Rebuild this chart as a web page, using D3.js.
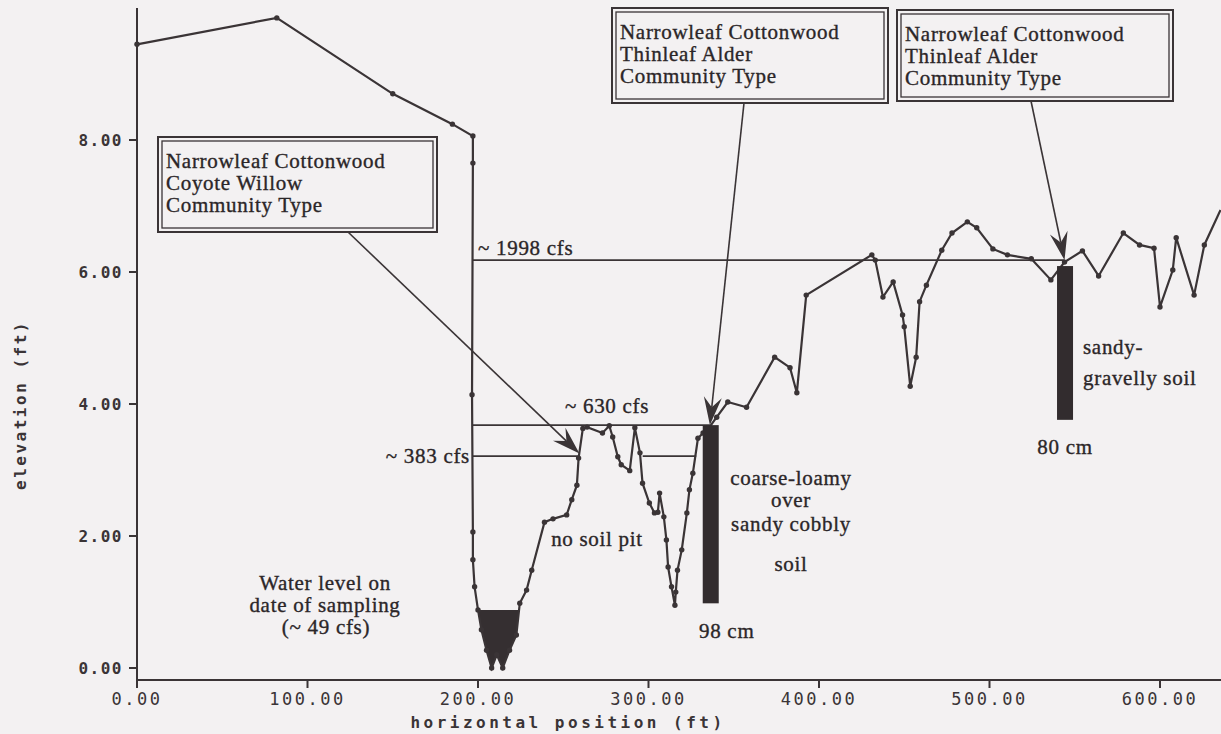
<!DOCTYPE html>
<meta charset="utf-8">
<style>
body { margin: 0; background: #f3f1f2; }
svg { display: block; }
.serif { font-family: "Liberation Serif", "Times New Roman", serif; font-size: 21px; letter-spacing: 0.7px; fill: #2b2628; stroke: #2b2628; stroke-width: 0.35px; }
.mono { font-family: "DejaVu Sans Mono", monospace; fill: #3a3436; }
</style>
<svg width="1221" height="734"></svg>
<script src="https://d3js.org/d3.v7.min.js"></script>
<script>

// surveyed cross-section (horizontal position ft, elevation ft)
var profileX = [0, 82, 150, 185, 197, 197, 196.5, 197, 197, 198,
  200, 202, 205, 208, 211, 214.5, 218.5, 222.5, 224.5, 228.5,
  231.5, 239, 244, 252, 255, 258, 259, 261.5, 264, 273,
  277, 279, 282, 284, 289, 292, 295, 296.5, 300.5, 303.5,
  305.5, 306.5, 309, 310.5, 311.5, 313.5, 315.5, 316, 317, 319.5,
  322.5, 324, 326, 329, 332, 335.5, 340, 346.5, 357.5, 374,
  383, 387, 392.5, 431, 433, 437.5, 443.5, 449, 450, 453.5,
  457, 459, 463, 472, 478, 487, 492.5, 502, 510.5, 524.5,
  536, 544, 554.5, 564, 578.5, 588, 596.5, 600, 607.5, 609.5,
  620, 626, 635.5];
var profileY = [9.45, 9.85, 8.70, 8.24, 8.06, 7.65, 4.14, 2.06, 1.64, 1.23,
  0.88, 0.58, 0.27, 0.0, 0.2, 0.0, 0.27, 0.5, 0.98, 1.18,
  1.48, 2.21, 2.26, 2.32, 2.55, 2.77, 3.18, 3.63, 3.65, 3.56,
  3.67, 3.50, 3.20, 3.08, 2.99, 3.64, 3.26, 2.80, 2.50, 2.35,
  2.36, 2.65, 2.29, 1.94, 1.53, 1.23, 0.95, 1.15, 1.48, 1.79,
  2.35, 2.70, 2.95, 3.48, 3.56, 3.64, 3.80, 4.03, 3.95, 4.71,
  4.55, 4.17, 5.65, 6.26, 6.18, 5.62, 5.85, 5.35, 5.17, 4.27,
  4.71, 5.55, 5.80, 6.33, 6.59, 6.76, 6.67, 6.35, 6.26, 6.20,
  5.88, 6.15, 6.32, 5.94, 6.59, 6.41, 6.36, 5.47, 6.03, 6.52,
  5.65, 6.41, 6.94];

var xTicks = [0, 100, 200, 300, 400, 500, 600];
var yTicks = [0, 2, 4, 6, 8];

// water surface on sampling date
var waterLevel = 0.88, waterFrom = 200, waterTo = 224;

// discharge stage lines: label, elevation, segments [x0, x1]
var stageLabels = ["~ 1998 cfs", "~ 630 cfs", "~ 383 cfs"];
var stageElev = [6.18, 3.68, 3.21];
var stageSegs = [[[197, 544]], [[197, 336]], [[197, 259.5], [296.6, 328]]];

// soil pits: x position, top, bottom elevation, depth label
var pitX = [336.5, 544.3];
var pitTop = [3.68, 6.09];
var pitBottom = [0.98, 3.76];
var pitDepth = ["98 cm", "80 cm"];

// community type boxes and the point each arrow marks
var boxLines = [
  ["Narrowleaf Cottonwood", "Coyote Willow", "Community Type"],
  ["Narrowleaf Cottonwood", "Thinleaf Alder", "Community Type"],
  ["Narrowleaf Cottonwood", "Thinleaf Alder", "Community Type"]
];
var arrowTipX = [259.5, 336, 544];
var arrowTipY = [3.25, 3.68, 6.18];

var svg = d3.select("svg"),
    ink = "#3a3436";

var x = d3.scaleLinear().domain([0, 600]).range([137, 1160]);
var y = d3.scaleLinear().domain([0, 8]).range([668, 140]);

var pts = profileX.map(function(d, i) { return [d, profileY[i]]; });

// axes
var xAxisY = 680;
svg.append("line").attr("x1", x(0)).attr("x2", 1221)
    .attr("y1", xAxisY).attr("y2", xAxisY)
    .attr("stroke", ink).attr("stroke-width", 2);
svg.append("line").attr("x1", x(0)).attr("x2", x(0))
    .attr("y1", 8).attr("y2", xAxisY)
    .attr("stroke", ink).attr("stroke-width", 2);

svg.selectAll(".xt").data(xTicks).enter().append("line")
    .attr("x1", d => x(d)).attr("x2", d => x(d))
    .attr("y1", xAxisY).attr("y2", xAxisY + 8)
    .attr("stroke", ink).attr("stroke-width", 2);
svg.selectAll(".xl").data(xTicks).enter().append("text")
    .attr("class", "mono")
    .attr("x", d => x(d)).attr("y", 705)
    .attr("text-anchor", "middle")
    .style("font-size", "17px").style("letter-spacing", "2.5px")
    .text(d3.format(".2f"));

svg.selectAll(".yt").data(yTicks).enter().append("line")
    .attr("x1", x(0) - 8).attr("x2", x(0))
    .attr("y1", d => y(d)).attr("y2", d => y(d))
    .attr("stroke", ink).attr("stroke-width", 2);
svg.selectAll(".yl").data(yTicks).enter().append("text")
    .attr("class", "mono")
    .attr("x", 123).attr("y", d => y(d) + 6)
    .attr("text-anchor", "end")
    .style("font-size", "16px").style("font-weight", "bold").style("letter-spacing", "1.5px")
    .text(d3.format(".2f"));

svg.append("text").attr("class", "mono")
    .attr("x", 568).attr("y", 728)
    .attr("text-anchor", "middle")
    .style("font-size", "16px").style("font-weight", "bold").style("letter-spacing", "3.5px")
    .text("horizontal position (ft)");
svg.append("text").attr("class", "mono")
    .attr("transform", "translate(26,405) rotate(-90)")
    .attr("text-anchor", "middle")
    .style("font-size", "16px").style("font-weight", "bold").style("letter-spacing", "2.5px")
    .text("elevation (ft)");

// stage lines
stageSegs.forEach(function(segs, i) {
  segs.forEach(function(s) {
    svg.append("line")
        .attr("x1", x(s[0])).attr("x2", x(s[1]))
        .attr("y1", y(stageElev[i])).attr("y2", y(stageElev[i]))
        .attr("stroke", ink).attr("stroke-width", 1.6);
  });
});

// water body
var water = [[waterFrom, waterLevel]]
  .concat(pts.filter(p => p[0] > waterFrom && p[0] < waterTo && p[1] < waterLevel))
  .concat([[waterTo, waterLevel]]);
svg.append("path")
    .attr("d", d3.line().x(d => x(d[0])).y(d => y(d[1]))(water) + "Z")
    .attr("fill", "#352f31");

// profile line and survey dots
svg.append("path")
    .attr("d", d3.line().x(d => x(d[0])).y(d => y(d[1]))(pts))
    .attr("fill", "none").attr("stroke", ink).attr("stroke-width", 2.2);
svg.selectAll(".dot").data(pts.slice(0, -1)).enter().append("circle")
    .attr("cx", d => x(d[0])).attr("cy", d => y(d[1])).attr("r", 2.7)
    .attr("fill", ink);

// soil pits
pitX.forEach(function(px, i) {
  svg.append("rect")
      .attr("x", x(px) - 8).attr("width", 16)
      .attr("y", y(pitTop[i])).attr("height", y(pitBottom[i]) - y(pitTop[i]))
      .attr("fill", "#322c2e");
});

// boxes
var boxPos = [[158, 137, 279, 95], [612, 8, 276, 95], [897, 10, 276, 91]];
var arrowFrom = [[348, 232], [744, 103], [1031, 101]];
boxLines.forEach(function(lines, i) {
  var b = boxPos[i];
  svg.append("rect").attr("x", b[0]).attr("y", b[1]).attr("width", b[2]).attr("height", b[3])
      .attr("fill", "none").attr("stroke", ink).attr("stroke-width", 2);
  svg.append("rect").attr("x", b[0] + 4).attr("y", b[1] + 4).attr("width", b[2] - 8).attr("height", b[3] - 8)
      .attr("fill", "none").attr("stroke", ink).attr("stroke-width", 1.3);
  svg.append("text").attr("class", "serif")
      .selectAll("tspan").data(lines).enter().append("tspan")
      .attr("x", b[0] + 8).attr("y", (d, j) => b[1] + 31 + j * 22)
      .text(d => d);
});

// arrows
arrowFrom.forEach(function(a, i) {
  var tx = x(arrowTipX[i]), ty = y(arrowTipY[i]);
  var ang = Math.atan2(ty - a[1], tx - a[0]);
  var len = 28, wid = 9, notch = 18;
  var ux = Math.cos(ang), uy = Math.sin(ang), nx = -uy, ny = ux;
  svg.append("line").attr("x1", a[0]).attr("y1", a[1])
      .attr("x2", tx - ux * notch).attr("y2", ty - uy * notch)
      .attr("stroke", ink).attr("stroke-width", 1.6);
  var head = [
    [tx, ty],
    [tx - ux * len + nx * wid, ty - uy * len + ny * wid],
    [tx - ux * notch, ty - uy * notch],
    [tx - ux * len - nx * wid, ty - uy * len - ny * wid]
  ];
  svg.append("path").attr("d", d3.line()(head) + "Z").attr("fill", ink);
});

// free text labels
function label(tx, ty, str, anchor) {
  svg.append("text").attr("class", "serif")
      .attr("x", tx).attr("y", ty)
      .attr("text-anchor", anchor || "start")
      .text(str);
}
label(478, 255, stageLabels[0]);
label(607, 413, stageLabels[1], "middle");
label(470, 463, stageLabels[2], "end");
label(597, 546, "no soil pit", "middle");
label(325, 590, "Water level on", "middle");
label(325, 612, "date of sampling", "middle");
label(326, 634, "(~ 49 cfs)", "middle");
label(791, 485, "coarse-loamy", "middle");
label(791, 507, "over", "middle");
label(791, 531, "sandy cobbly", "middle");
label(791, 571, "soil", "middle");
label(x(pitX[0]) + 16, 638, pitDepth[0], "middle");
label(1083, 354, "sandy-");
label(1083, 385, "gravelly soil");
label(x(pitX[1]), 454, pitDepth[1], "middle");

</script>
